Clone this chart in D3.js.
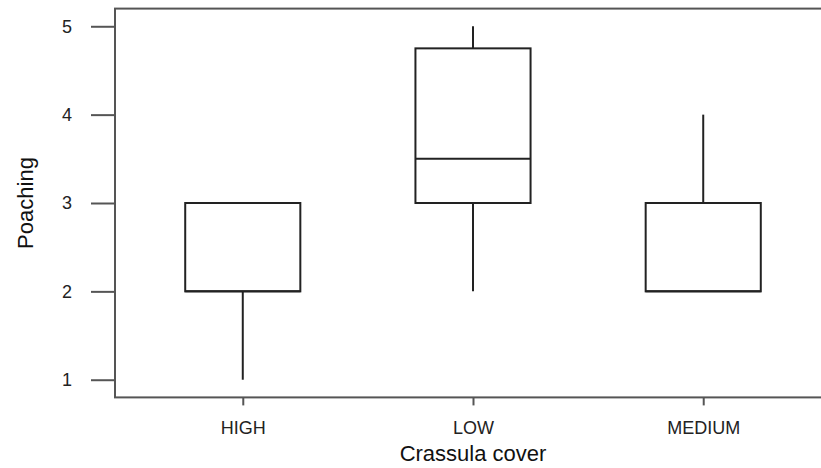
<!DOCTYPE html>
<html>
<head>
<meta charset="utf-8">
<script src="https://cdn.jsdelivr.net/npm/d3@7"></script>
<style>
  html, body { margin: 0; padding: 0; background: #fff; }
  svg { display: block; }
  text { font-family: "Liberation Sans", Arial, sans-serif; }
</style>
</head>
<body>
<svg id="chart" width="821" height="468"></svg>
<script>
// ---- data ----
const categories = ["HIGH", "LOW", "MEDIUM"];
const whiskerLow = [1, 2, 2];
const q1 = [2, 3, 2];
const medians = [2, 3.5, 2];
const q3 = [3, 4.75, 3];
const whiskerHigh = [3, 5, 4];
const yTicks = [1, 2, 3, 4, 5];

const data = categories.map((c, i) => ({
  cat: c, pos: i + 1,
  lo: whiskerLow[i], q1: q1[i], med: medians[i], q3: q3[i], hi: whiskerHigh[i]
}));

const svg = d3.select("#chart");
const x = d3.scaleLinear().domain([0.445, 3.555]).range([115, 831]);
const y = d3.scaleLinear().domain([0.8, 5.2]).range([397.4, 8.6]);
const boxHalf = 0.25;

const frameColor = "#555";
const lineColor = "#222";

// frame
svg.append("rect")
  .attr("x", x(0.445)).attr("y", y(5.2))
  .attr("width", x(3.555) - x(0.445)).attr("height", y(0.8) - y(5.2))
  .attr("fill", "none").attr("stroke", frameColor).attr("stroke-width", 2);

// y axis
const yAxis = d3.axisLeft(y).tickValues(yTicks).tickSize(24).tickPadding(19).tickFormat(d3.format("d"));
const gy = svg.append("g").attr("transform", `translate(${x(0.445)},0)`).call(yAxis);
gy.select(".domain").remove();
gy.selectAll(".tick line").attr("stroke", frameColor).attr("stroke-width", 2);
gy.selectAll(".tick text").attr("font-size", 18).attr("fill", "#222")
  .attr("font-family", "Liberation Sans, Arial, sans-serif");

// x axis
const xAxis = d3.axisBottom(x).tickValues(data.map(d => d.pos))
  .tickFormat((d, i) => categories[i]).tickSize(8).tickPadding(16);
const gx = svg.append("g").attr("transform", `translate(0,${y(0.8)})`).call(xAxis);
gx.select(".domain").remove();
gx.selectAll(".tick line").attr("stroke", frameColor).attr("stroke-width", 2);
gx.selectAll(".tick text").attr("font-size", 18).attr("fill", "#222")
  .attr("font-family", "Liberation Sans, Arial, sans-serif");

// boxes
const g = svg.append("g");
data.forEach(d => {
  g.append("line").attr("x1", x(d.pos)).attr("x2", x(d.pos))
    .attr("y1", y(d.lo)).attr("y2", y(d.q1))
    .attr("stroke", lineColor).attr("stroke-width", 2);
  g.append("line").attr("x1", x(d.pos)).attr("x2", x(d.pos))
    .attr("y1", y(d.q3)).attr("y2", y(d.hi))
    .attr("stroke", lineColor).attr("stroke-width", 2);
  g.append("rect")
    .attr("x", x(d.pos - boxHalf)).attr("y", y(d.q3))
    .attr("width", x(d.pos + boxHalf) - x(d.pos - boxHalf))
    .attr("height", y(d.q1) - y(d.q3))
    .attr("fill", "#fff").attr("stroke", lineColor).attr("stroke-width", 2);
  g.append("line").attr("x1", x(d.pos - boxHalf)).attr("x2", x(d.pos + boxHalf))
    .attr("y1", y(d.med)).attr("y2", y(d.med))
    .attr("stroke", lineColor).attr("stroke-width", 2);
});

// axis titles
svg.append("text").attr("x", x(2)).attr("y", 461)
  .attr("text-anchor", "middle").attr("font-size", 22).attr("fill", "#111")
  .text("Crassula cover");
svg.append("text").attr("transform", `translate(33,${(y(5.2) + y(0.8)) / 2}) rotate(-90)`)
  .attr("text-anchor", "middle").attr("font-size", 22).attr("fill", "#111")
  .text("Poaching");
</script>
</body>
</html>
